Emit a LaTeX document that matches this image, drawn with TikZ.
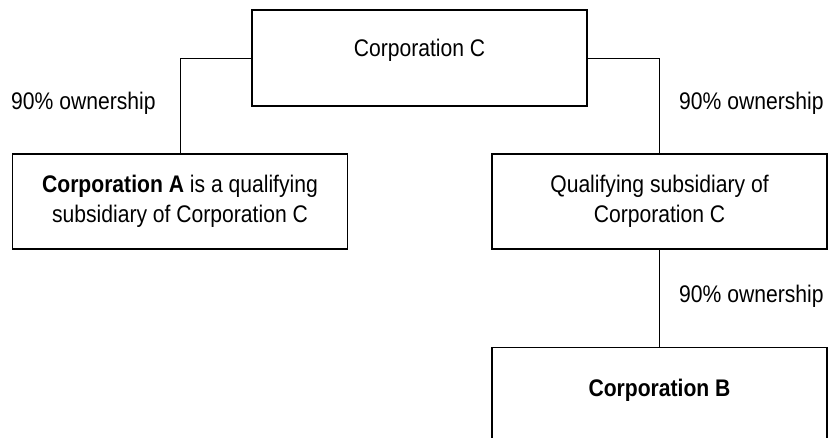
\documentclass[tikz,border=0pt]{standalone}
\usepackage{fontspec}
\setmainfont{Liberation Sans}[FakeStretch=0.88]
\usetikzlibrary{positioning}
\begin{document}
\begin{tikzpicture}[x=1pt,y=-1pt,
company/.style={draw,line width=1.3pt,minimum width=335pt,minimum height=95pt,inner sep=0pt,align=center,font=\fontsize{24}{30}\selectfont},
share text/.style={anchor=base west,inner sep=0pt,font=\fontsize{24}{30}\selectfont},
link/.style={line width=0.9pt}]
\useasboundingbox (0,0) rectangle (833,437);
\node[company,minimum height=96pt] (C) at (419.5,58) {};
\node[company,draw=none,minimum height=0pt] (Ctext) at ([yshift=8pt]C.center) {Corporation C};
\node[company] (A) at (180,201.5) {\textbf{Corporation A} is a qualifying\\subsidiary of Corporation C};
\node[company] (Q) at (659.5,201.5) {Qualifying subsidiary of\\Corporation C};
\node[company,below=97pt of Q] (B) {};
\node[company,draw=none,minimum height=0pt] (Btext) at ([yshift=5pt]B.center) {\textbf{Corporation B}};
\draw[link] (C.west) -| (A.north);
\draw[link] (C.east) -| (Q.north);
\draw[link] (Q.south) -- (B.north);
\node[share text] (ownA) at (11,109.5) {90\% ownership};
\node[share text] (ownQ) at (679,109.5) {90\% ownership};
\node[share text] (ownB) at (679,302) {90\% ownership};
\end{tikzpicture}
\end{document}
